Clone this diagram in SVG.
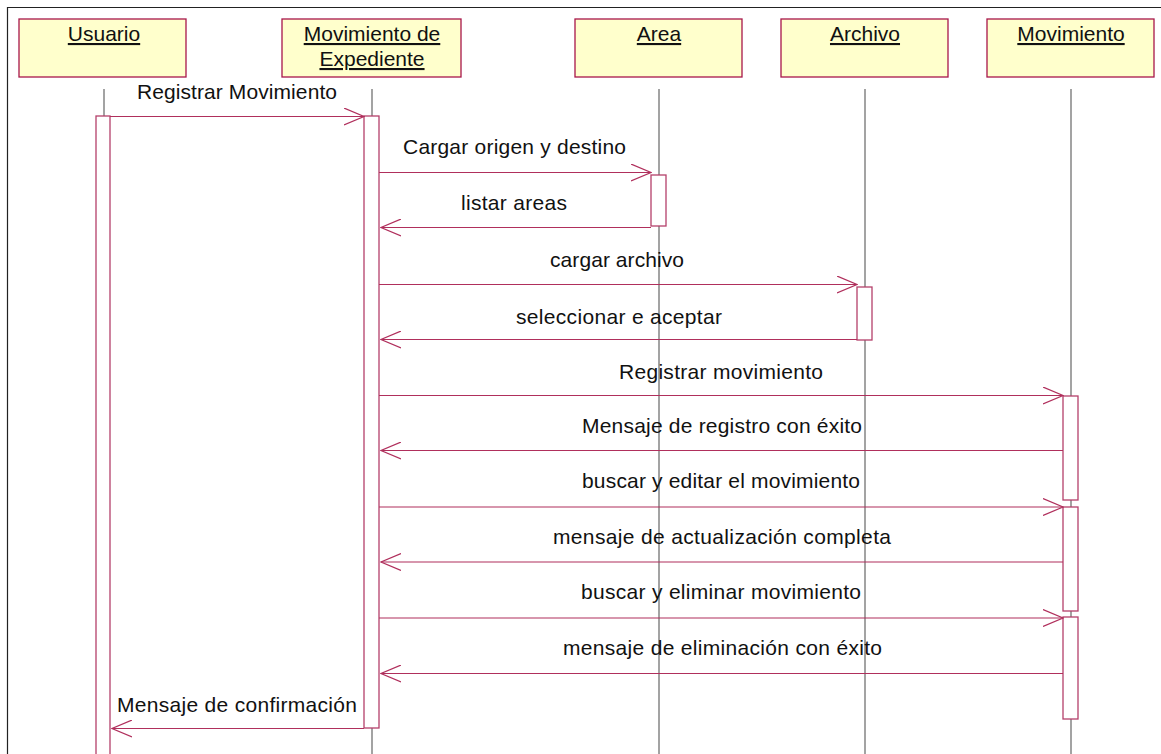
<svg xmlns="http://www.w3.org/2000/svg" width="1161" height="754" viewBox="0 0 1161 754">
<defs>
<style>
.frame{fill:none;stroke:#222;stroke-width:1.2}
.obj{fill:#FFFFCC;stroke:#A8164A;stroke-width:1.3}
.life{stroke:#666;stroke-width:1.2}
.act{fill:#fff;stroke:#B4406A;stroke-width:1.3}
.msg{stroke:#B02F5C;stroke-width:1.2;fill:none;marker-end:url(#open)}
.hd{font-family:"Liberation Sans",Arial,sans-serif;font-size:21px;fill:#111;text-anchor:middle;text-decoration:underline}
.lb{font-family:"Liberation Sans",Arial,sans-serif;font-size:21px;fill:#111}
</style>
<marker id="open" viewBox="0 0 21 18" refX="20" refY="9" markerWidth="21" markerHeight="18" markerUnits="userSpaceOnUse" orient="auto">
<path d="M0,0.5 L20,9 L0,17.5" fill="none" stroke="#B02F5C" stroke-width="1.2"/>
</marker>
</defs>
<rect width="1161" height="754" fill="#fff"/>
<path class="frame" d="M7.5,754 V7.5 H1161"/>

<g id="usuario">
<rect class="obj" x="19" y="19" width="167" height="58"/>
<text class="hd" x="104" y="41">Usuario</text>
<line class="life" x1="104" y1="89" x2="104" y2="754"/>
<rect class="act" x="96" y="116" width="14" height="650"/>
</g>

<g id="movimiento-expediente">
<rect class="obj" x="282" y="19" width="179" height="58"/>
<text class="hd" x="372" y="41">Movimiento de</text>
<text class="hd" x="372" y="66">Expediente</text>
<line class="life" x1="372" y1="89" x2="372" y2="754"/>
<rect class="act" x="364" y="116" width="15" height="612"/>
</g>

<g id="area">
<rect class="obj" x="575" y="19" width="167" height="58"/>
<text class="hd" x="659" y="41">Area</text>
<line class="life" x1="659" y1="89" x2="659" y2="754"/>
<rect class="act" x="651" y="175" width="15" height="51"/>
</g>

<g id="archivo">
<rect class="obj" x="781" y="19" width="167" height="58"/>
<text class="hd" x="865" y="41">Archivo</text>
<line class="life" x1="865" y1="89" x2="865" y2="754"/>
<rect class="act" x="857" y="287" width="15" height="53"/>
</g>

<g id="movimiento">
<rect class="obj" x="987" y="19" width="167" height="58"/>
<text class="hd" x="1071" y="41">Movimiento</text>
<line class="life" x1="1071" y1="89" x2="1071" y2="754"/>
<rect class="act" x="1063" y="396" width="15" height="104"/>
<rect class="act" x="1063" y="507" width="15" height="104"/>
<rect class="act" x="1063" y="617" width="15" height="102"/>
</g>

<g id="connectors">
<line class="msg" x1="110" y1="116.5" x2="364" y2="116.5"/>
<line class="msg" x1="379" y1="172.5" x2="651" y2="172.5"/>
<line class="msg" x1="651" y1="227.5" x2="381" y2="227.5"/>
<line class="msg" x1="379" y1="284.5" x2="857" y2="284.5"/>
<line class="msg" x1="857" y1="339.5" x2="381" y2="339.5"/>
<line class="msg" x1="379" y1="395.5" x2="1063" y2="395.5"/>
<line class="msg" x1="1063" y1="450.5" x2="381" y2="450.5"/>
<line class="msg" x1="379" y1="507" x2="1063" y2="507"/>
<line class="msg" x1="1063" y1="562" x2="381" y2="562"/>
<line class="msg" x1="379" y1="618" x2="1063" y2="618"/>
<line class="msg" x1="1063" y1="673.5" x2="381" y2="673.5"/>
<line class="msg" x1="364" y1="728.5" x2="112" y2="728.5"/>

<text class="lb" x="137" y="99" textLength="200" lengthAdjust="spacing">Registrar Movimiento</text>
<text class="lb" x="403" y="154" textLength="223" lengthAdjust="spacing">Cargar origen y destino</text>
<text class="lb" x="461" y="210" textLength="106" lengthAdjust="spacing">listar areas</text>
<text class="lb" x="550" y="267" textLength="134" lengthAdjust="spacing">cargar archivo</text>
<text class="lb" x="516" y="324" textLength="206" lengthAdjust="spacing">seleccionar e aceptar</text>
<text class="lb" x="619" y="379" textLength="204" lengthAdjust="spacing">Registrar movimiento</text>
<text class="lb" x="582" y="433" textLength="280" lengthAdjust="spacing">Mensaje de registro con éxito</text>
<text class="lb" x="582" y="488" textLength="278" lengthAdjust="spacing">buscar y editar el movimiento</text>
<text class="lb" x="553" y="544" textLength="338" lengthAdjust="spacing">mensaje de actualización completa</text>
<text class="lb" x="581" y="599" textLength="280" lengthAdjust="spacing">buscar y eliminar movimiento</text>
<text class="lb" x="563" y="655" textLength="319" lengthAdjust="spacing">mensaje de eliminación con éxito</text>
<text class="lb" x="117" y="712" textLength="240" lengthAdjust="spacing">Mensaje de confirmación</text>
</g>
</svg>
